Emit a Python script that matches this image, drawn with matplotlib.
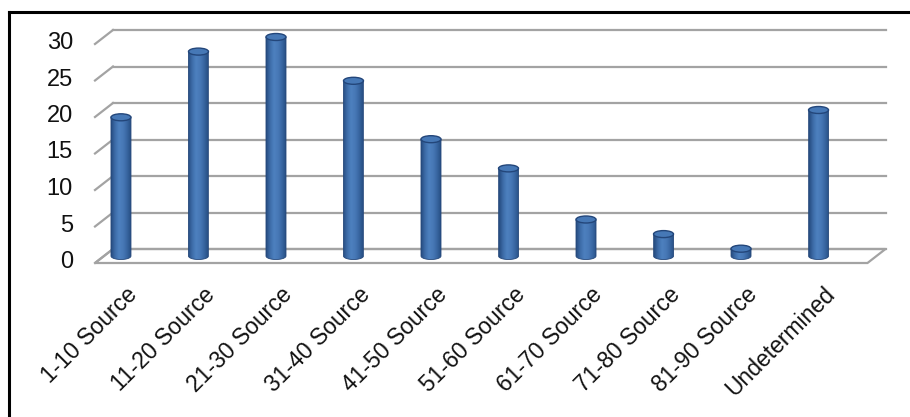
import matplotlib
matplotlib.use("Agg")
import matplotlib.pyplot as plt
import numpy as np
from matplotlib.patches import Ellipse, Polygon
from matplotlib.lines import Line2D
from matplotlib.colors import LinearSegmentedColormap
from matplotlib.transforms import offset_copy

# data
categories = ["1-10 Source", "11-20 Source", "21-30 Source", "31-40 Source",
              "41-50 Source", "51-60 Source", "61-70 Source", "71-80 Source",
              "81-90 Source", "Undetermined"]
values = [19, 28, 30, 24, 16, 12, 5, 3, 1, 20]
yticks = [0, 5, 10, 15, 20, 25, 30]

plt.rcParams['font.family'] = ['Liberation Sans', 'DejaVu Sans']

W, H = 910, 417
fig = plt.figure(figsize=(W / 100, H / 100), dpi=100)
fig.patch.set_facecolor("white")

# axes = the plane where the cylinders stand (mid depth)
left_px, right_px = 104, 876.5
px_y = (380 - 161) / 30.0           # pixels per y unit
y0, y1 = -3, 33
bot_px = 161 + y0 * px_y
top_px = 161 + y1 * px_y
ax = fig.add_axes([left_px / W, bot_px / H, (right_px - left_px) / W, (top_px - bot_px) / H])
ax.axis("off")
x0, x1 = -0.219, 9.748

px_x = (right_px - left_px) / (x1 - x0)   # pixels per x unit
ddx = 9 / px_x                            # half depth, data units
ddy = 7 / px_y

grid_c = "#a3a3a3"
# floor (white) and back wall lines
floor = Polygon([(x0 - ddx, -ddy), (x1 - ddx, -ddy), (x1 + ddx, ddy), (x0 + ddx, ddy)],
                closed=True, facecolor="white", edgecolor=grid_c, lw=1.6, clip_on=False, zorder=1)
ax.add_patch(floor)
for v in yticks:
    ax.plot([x0 + ddx, x1 + ddx], [v + ddy, v + ddy], color=grid_c, lw=1.6, clip_on=False, zorder=1)
    ax.plot([x0 - ddx, x0 + ddx], [v - ddy, v + ddy], color=grid_c, lw=1.6, clip_on=False, zorder=1)

ylab_tr = offset_copy(ax.transData, fig=fig, x=-31, y=-6, units='dots')
for v in yticks:
    ax.text(x0, v, str(v), transform=ylab_tr, ha="right", va="center", fontsize=17, color="#111111")

# cylinders
cmap = LinearSegmentedColormap.from_list("cyl", ["#264c80", "#3d6ca8", "#4d80bf", "#4879b7", "#3967a3", "#284f84"])
grad = np.linspace(0, 1, 64).reshape(1, -1)
bw = 20 / px_x
eh = 7 / px_y
for i, v in enumerate(values):
    xl, xr = i - bw / 2, i + bw / 2
    t = np.linspace(np.pi, 2 * np.pi, 30)
    bottom = [(i + bw / 2 * np.cos(a), eh / 2 * np.sin(a)) for a in t]
    pts = [(xl, v)] + bottom + [(xr, v)]
    body = Polygon(pts, closed=True, facecolor="none", edgecolor="#24477a", lw=0.6, zorder=3)
    ax.add_patch(body)
    im = ax.imshow(grad, cmap=cmap, aspect="auto", extent=[xl, xr, -eh, v], zorder=2, interpolation="bilinear")
    im.set_clip_path(body)
    top = Ellipse((i, v), bw, eh, facecolor="#4678b6", edgecolor="#23467a", lw=1.0, zorder=4)
    ax.add_patch(top)

ax.set_xlim(x0, x1)
ax.set_ylim(y0, y1)

xlab_tr = offset_copy(ax.transData, fig=fig, x=13, y=-35, units='dots')
for i, c in enumerate(categories):
    ax.text(i, 0, c, transform=xlab_tr, ha="right", va="center", rotation=45,
            rotation_mode="anchor", fontsize=16.5, color="#111111")

# frame of the screenshot
fig.add_artist(Line2D([9 / W, 1], [(H - 12) / H, (H - 12) / H], color="black", lw=2.2, transform=fig.transFigure))
fig.add_artist(Line2D([9 / W, 9 / W], [0, (H - 12) / H], color="black", lw=2.2, transform=fig.transFigure))

fig.savefig("out.png", dpi=100, facecolor="white")
